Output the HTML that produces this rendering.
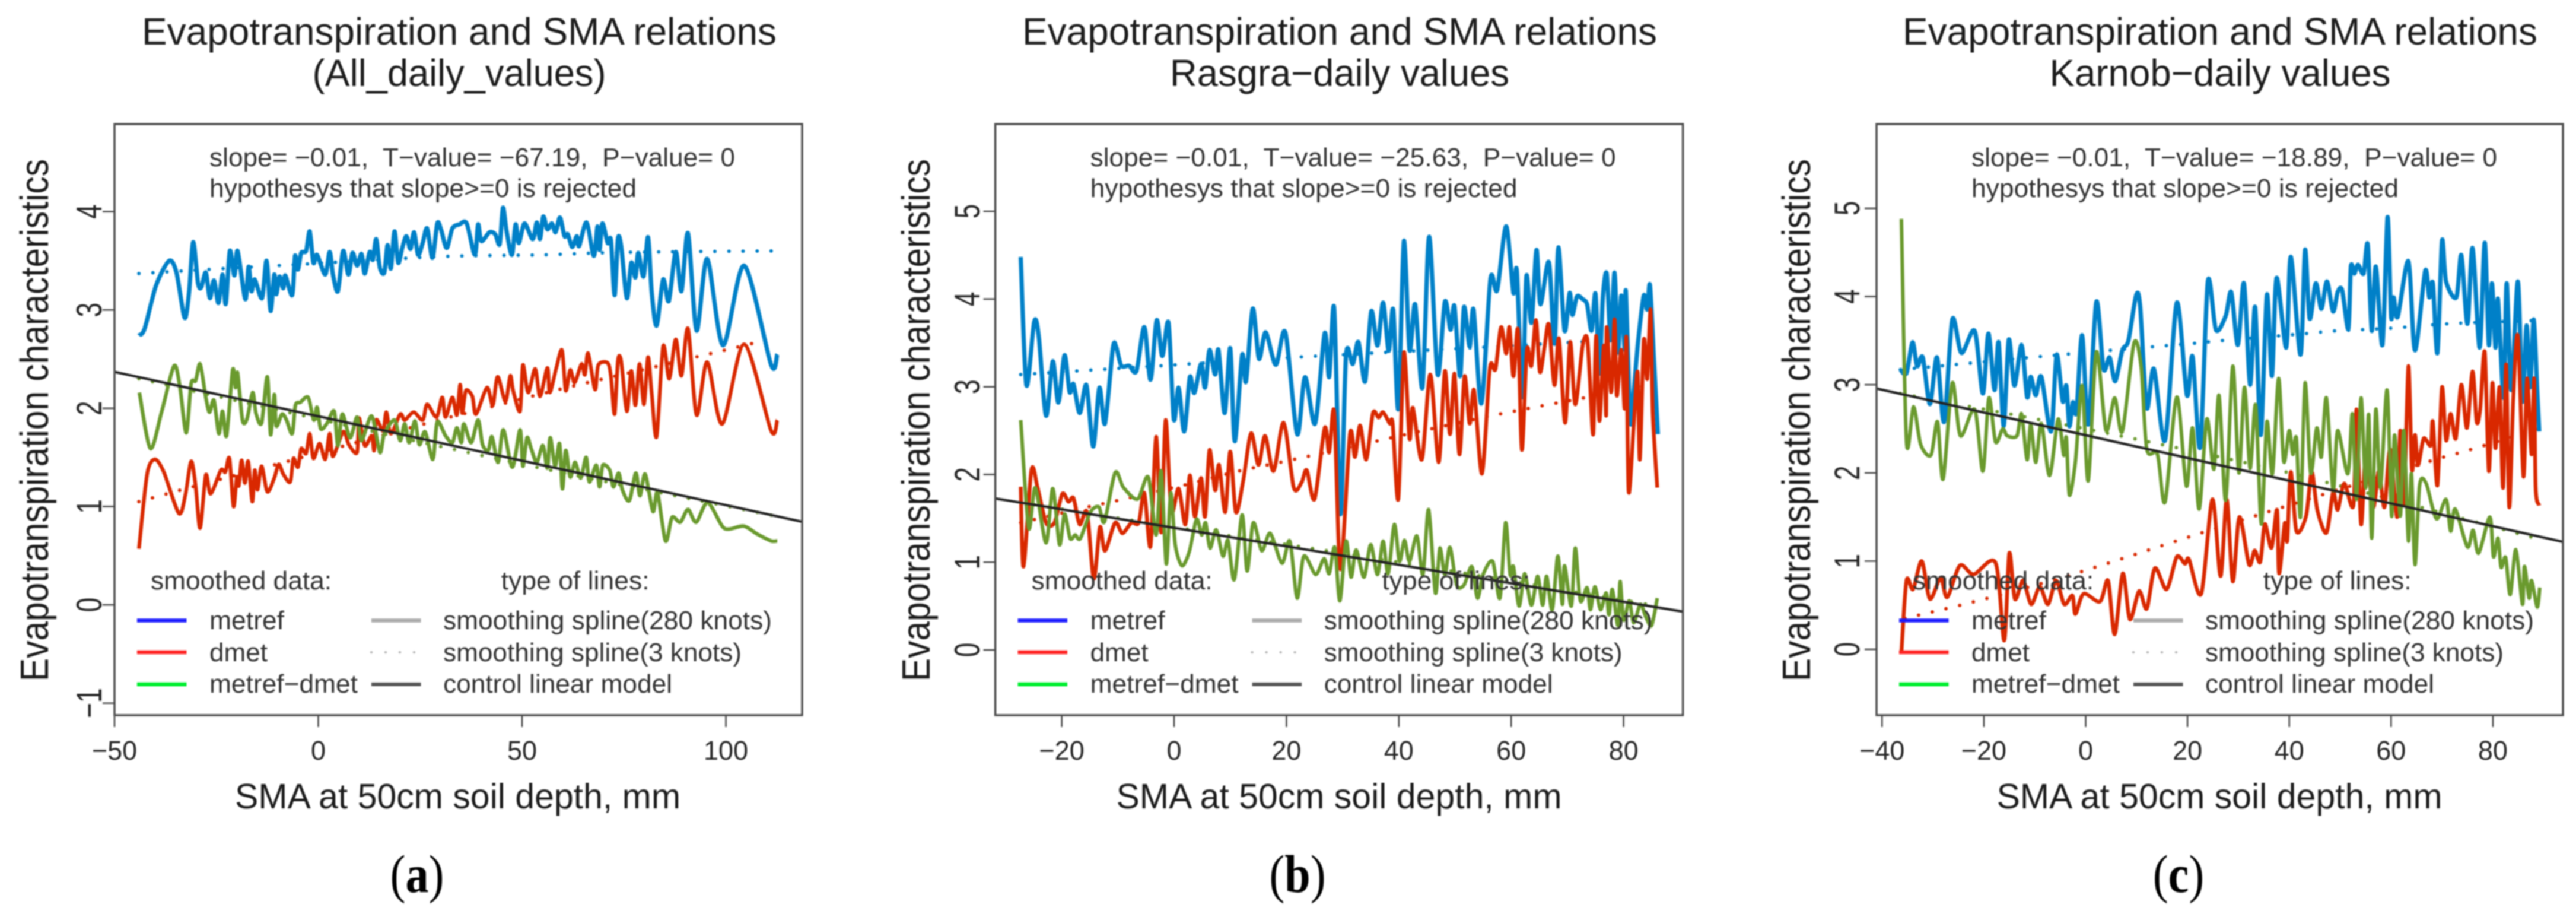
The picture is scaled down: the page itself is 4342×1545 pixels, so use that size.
<!DOCTYPE html>
<html lang="en">
<head>
<meta charset="utf-8">
<title>Evapotranspiration and SMA relations</title>
<style>
html,body{margin:0;padding:0;background:#fff;width:4342px;height:1545px;overflow:hidden}
svg{display:block;filter:blur(1.1px)}
text{font-family:"Liberation Sans",sans-serif;fill:#262626;white-space:pre}
.title{font-size:64px;fill:#1c1c1c;text-anchor:middle}
.xlab{font-size:59px;fill:#1c1c1c;text-anchor:middle}
.note{font-size:44px;fill:#333}
.leg{font-size:44px;fill:#333}
.cap{font-family:"Liberation Serif",serif;font-size:78px;fill:#000;text-anchor:middle}
.capb{font-weight:bold}
</style>
</head>
<body>
<svg id="figure" xmlns="http://www.w3.org/2000/svg" width="4342" height="1545" viewBox="0 0 4342 1545">
<rect x="0" y="0" width="4342" height="1545" fill="#fff"/>

<g id="panel-a">
<text class="title" x="774" y="75" textLength="1070" lengthAdjust="spacingAndGlyphs">Evapotranspiration and SMA relations</text>
<text class="title" x="774" y="145" textLength="495" lengthAdjust="spacingAndGlyphs">(All_daily_values)</text>
<text class="xlab" x="771.5" y="1362" textLength="751" lengthAdjust="spacingAndGlyphs">SMA at 50cm soil depth, mm</text>
<text class="xlab" transform="translate(81,708) rotate(-90) scale(1,1.14)" textLength="880" lengthAdjust="spacingAndGlyphs">Evapotranspiration characteristics</text>
<text class="cap" transform="translate(703,1503) scale(1,1.15)">(<tspan class="capb">a</tspan>)</text>
</g>
<g id="panel-b">
<text class="title" x="2258" y="75" textLength="1070" lengthAdjust="spacingAndGlyphs">Evapotranspiration and SMA relations</text>
<text class="title" x="2258" y="145" textLength="572" lengthAdjust="spacingAndGlyphs">Rasgra−daily values</text>
<text class="xlab" x="2257" y="1362" textLength="751" lengthAdjust="spacingAndGlyphs">SMA at 50cm soil depth, mm</text>
<text class="xlab" transform="translate(1567,708) rotate(-90) scale(1,1.14)" textLength="880" lengthAdjust="spacingAndGlyphs">Evapotranspiration characteristics</text>
<text class="cap" transform="translate(2187,1503) scale(1,1.15)">(<tspan class="capb">b</tspan>)</text>
</g>
<g id="panel-c">
<text class="title" x="3742" y="75" textLength="1070" lengthAdjust="spacingAndGlyphs">Evapotranspiration and SMA relations</text>
<text class="title" x="3742" y="145" textLength="575" lengthAdjust="spacingAndGlyphs">Karnob−daily values</text>
<text class="xlab" x="3741" y="1362" textLength="751" lengthAdjust="spacingAndGlyphs">SMA at 50cm soil depth, mm</text>
<text class="xlab" transform="translate(3051,708) rotate(-90) scale(1,1.14)" textLength="880" lengthAdjust="spacingAndGlyphs">Evapotranspiration characteristics</text>
<text class="cap" transform="translate(3672,1503) scale(1,1.15)">(<tspan class="capb">c</tspan>)</text>
</g>

<g id="marks"></g>

<g transform="translate(193,0)">
<text class="note" x="160" y="280" textLength="886" lengthAdjust="spacingAndGlyphs">slope= −0.01,  T−value= −67.19,  P−value= 0</text>
<text class="note" x="160" y="332" textLength="720" lengthAdjust="spacingAndGlyphs">hypothesys that slope&gt;=0 is rejected</text>
<g>
<text class="leg" x="61" y="993" textLength="305" lengthAdjust="spacingAndGlyphs">smoothed data:</text>
<text class="leg" x="651.6" y="993" textLength="250" lengthAdjust="spacingAndGlyphs">type of lines:</text>
<line x1="38" x2="121.5" y1="1045.5" y2="1045.5" stroke="#1a1aff" stroke-width="6.5"/>
<line x1="38" x2="121.5" y1="1099" y2="1099" stroke="#ff2424" stroke-width="6.5"/>
<line x1="38" x2="121.5" y1="1153" y2="1153" stroke="#00ee30" stroke-width="6.5"/>
<text class="leg" x="160" y="1060" textLength="126" lengthAdjust="spacingAndGlyphs">metref</text>
<text class="leg" x="160" y="1114" textLength="98" lengthAdjust="spacingAndGlyphs">dmet</text>
<text class="leg" x="160" y="1167" textLength="250" lengthAdjust="spacingAndGlyphs">metref−dmet</text>
<line x1="433" x2="516.5" y1="1045.5" y2="1045.5" stroke="#aaa" stroke-width="6.5"/>
<line x1="433" x2="516.5" y1="1099" y2="1099" stroke="#bbb" stroke-width="4.5" stroke-linecap="round" stroke-dasharray="0 24"/>
<line x1="433" x2="516.5" y1="1153" y2="1153" stroke="#555" stroke-width="6"/>
<text class="leg" x="554" y="1060" textLength="554" lengthAdjust="spacingAndGlyphs">smoothing spline(280 knots)</text>
<text class="leg" x="554" y="1114" textLength="503" lengthAdjust="spacingAndGlyphs">smoothing spline(3 knots)</text>
<text class="leg" x="554" y="1167" textLength="386" lengthAdjust="spacingAndGlyphs">control linear model</text>
</g>
</g>

<g transform="translate(1677.6,0)">
<text class="note" x="160" y="280" textLength="886" lengthAdjust="spacingAndGlyphs">slope= −0.01,  T−value= −25.63,  P−value= 0</text>
<text class="note" x="160" y="332" textLength="720" lengthAdjust="spacingAndGlyphs">hypothesys that slope&gt;=0 is rejected</text>
<g>
<text class="leg" x="61" y="993" textLength="305" lengthAdjust="spacingAndGlyphs">smoothed data:</text>
<text class="leg" x="651.6" y="993" textLength="250" lengthAdjust="spacingAndGlyphs">type of lines:</text>
<line x1="38" x2="121.5" y1="1045.5" y2="1045.5" stroke="#1a1aff" stroke-width="6.5"/>
<line x1="38" x2="121.5" y1="1099" y2="1099" stroke="#ff2424" stroke-width="6.5"/>
<line x1="38" x2="121.5" y1="1153" y2="1153" stroke="#00ee30" stroke-width="6.5"/>
<text class="leg" x="160" y="1060" textLength="126" lengthAdjust="spacingAndGlyphs">metref</text>
<text class="leg" x="160" y="1114" textLength="98" lengthAdjust="spacingAndGlyphs">dmet</text>
<text class="leg" x="160" y="1167" textLength="250" lengthAdjust="spacingAndGlyphs">metref−dmet</text>
<line x1="433" x2="516.5" y1="1045.5" y2="1045.5" stroke="#aaa" stroke-width="6.5"/>
<line x1="433" x2="516.5" y1="1099" y2="1099" stroke="#bbb" stroke-width="4.5" stroke-linecap="round" stroke-dasharray="0 24"/>
<line x1="433" x2="516.5" y1="1153" y2="1153" stroke="#555" stroke-width="6"/>
<text class="leg" x="554" y="1060" textLength="554" lengthAdjust="spacingAndGlyphs">smoothing spline(280 knots)</text>
<text class="leg" x="554" y="1114" textLength="503" lengthAdjust="spacingAndGlyphs">smoothing spline(3 knots)</text>
<text class="leg" x="554" y="1167" textLength="386" lengthAdjust="spacingAndGlyphs">control linear model</text>
</g>
</g>

<g transform="translate(3163,0)">
<text class="note" x="160" y="280" textLength="886" lengthAdjust="spacingAndGlyphs">slope= −0.01,  T−value= −18.89,  P−value= 0</text>
<text class="note" x="160" y="332" textLength="720" lengthAdjust="spacingAndGlyphs">hypothesys that slope&gt;=0 is rejected</text>
<g>
<text class="leg" x="61" y="993" textLength="305" lengthAdjust="spacingAndGlyphs">smoothed data:</text>
<text class="leg" x="651.6" y="993" textLength="250" lengthAdjust="spacingAndGlyphs">type of lines:</text>
<line x1="38" x2="121.5" y1="1045.5" y2="1045.5" stroke="#1a1aff" stroke-width="6.5"/>
<line x1="38" x2="121.5" y1="1099" y2="1099" stroke="#ff2424" stroke-width="6.5"/>
<line x1="38" x2="121.5" y1="1153" y2="1153" stroke="#00ee30" stroke-width="6.5"/>
<text class="leg" x="160" y="1060" textLength="126" lengthAdjust="spacingAndGlyphs">metref</text>
<text class="leg" x="160" y="1114" textLength="98" lengthAdjust="spacingAndGlyphs">dmet</text>
<text class="leg" x="160" y="1167" textLength="250" lengthAdjust="spacingAndGlyphs">metref−dmet</text>
<line x1="433" x2="516.5" y1="1045.5" y2="1045.5" stroke="#aaa" stroke-width="6.5"/>
<line x1="433" x2="516.5" y1="1099" y2="1099" stroke="#bbb" stroke-width="4.5" stroke-linecap="round" stroke-dasharray="0 24"/>
<line x1="433" x2="516.5" y1="1153" y2="1153" stroke="#555" stroke-width="6"/>
<text class="leg" x="554" y="1060" textLength="554" lengthAdjust="spacingAndGlyphs">smoothing spline(280 knots)</text>
<text class="leg" x="554" y="1114" textLength="503" lengthAdjust="spacingAndGlyphs">smoothing spline(3 knots)</text>
<text class="leg" x="554" y="1167" textLength="386" lengthAdjust="spacingAndGlyphs">control linear model</text>
</g>
</g>
</svg>

<script>
// ---------- Panel (a) All daily values ----------
const aXTicks = [-50, 0, 50, 100];
const aYTicks = [-1, 0, 1, 2, 3, 4];
const aMetrefX = [-44,-42.6,-39.8,-36.6,-34.8,-32.8,-31.7,-30.7,-29.5,-28.7,-27.6,-26.6,-25.6,-24.5,-23.5,-22.7,-21.7,-20.6,-19.8,-17.9,-17.1,-16.4,-15.6,-13.8,-12.7,-11.7,-10.8,-10.3,-9.5,-8.6,-8.1,-6.4,-5.7,-5,-4.2,-3,-2.1,-1.2,-0.3,1.7,2.8,3.6,4.8,6.1,7.4,8.4,9.5,10.6,11.4,12.6,13.4,14.2,15.1,16.2,17,17.8,18.7,19.6,20.6,21.6,22.6,23.5,24.5,25.6,26.7,28,29.2,30.1,31.5,32.9,34.6,36.4,38.4,39.2,40,42,43.4,44.5,45.3,46.2,47.5,48.4,49.2,50.6,52.6,53.6,54.4,55.2,56.2,57.3,58.2,59.3,60.4,61.2,62.3,63.4,64,65.8,67.6,68.5,69,69.7,71,71.8,72.7,73.5,74.3,75.7,76.8,77.8,78.5,79.8,80.9,81.8,83,84.6,86,87.7,89.1,90.7,92.8,95.4,99.3,104.5,111.1,112.6];
const aMetrefY = [2.74,2.81,3.25,3.5,3.38,2.92,3.18,3.69,3.27,3.23,3.38,3.12,3.3,3.07,3.36,3.06,3.6,3.35,3.6,3.11,3.44,3.19,3.31,3.12,3.5,2.99,3.36,3.16,3.34,3.22,3.35,3.15,3.55,3.41,3.58,3.6,3.8,3.48,3.56,3.36,3.59,3.36,3.19,3.6,3.36,3.58,3.45,3.57,3.37,3.59,3.51,3.72,3.43,3.38,3.66,3.42,3.8,3.48,3.63,3.75,3.62,3.79,3.56,3.68,3.83,3.53,3.88,3.82,3.63,3.83,3.87,3.88,3.56,3.87,3.7,3.79,3.77,3.67,4.04,3.8,3.56,3.87,3.68,3.88,3.72,3.89,3.72,3.95,3.82,3.88,3.79,3.94,3.75,3.77,3.64,3.75,3.65,3.89,3.55,3.85,3.61,3.88,3.68,3.71,3.15,3.72,3.65,3.12,3.48,3.33,3.58,3.34,3.74,3.18,2.84,3.31,3.09,3.59,3.19,3.78,2.79,3.52,2.64,3.45,2.44,2.55];
const aDmetX = [-44,-42,-40.1,-37.9,-34.2,-32.6,-31.2,-30.1,-29,-27.6,-26.4,-23.9,-22.8,-21.8,-20.8,-20,-19.5,-18.8,-18,-17.2,-16.2,-15.6,-14.9,-13.9,-12.5,-10.8,-9.7,-8.6,-6.9,-6.1,-5,-4.2,-3,-2.1,-1.2,0.3,1.7,2.8,3.6,6.1,7.5,9.5,10,11.4,13.1,13.7,14.2,15.9,16.7,17.8,20.1,21.2,23.4,25.6,26.7,29,30.4,31.2,32.9,34,34.8,35.3,36.2,37.8,38.7,41.4,42.8,44,45.9,47.1,47.8,49.5,50.2,51.5,53.2,54.4,56.2,56.8,58.4,59.8,60.7,61.8,62.9,64.6,65.4,66.2,67.9,68.7,71,71.8,72.7,73.5,74.3,75.7,76.8,77.8,78.8,79.9,80.9,81.8,83,84.6,86.1,87.7,89.1,90.7,92.8,95.4,99.1,104.5,111.1,112.6];
const aDmetY = [0.57,1.33,1.48,1.35,0.93,1.12,1.46,1.21,0.78,1.32,1.13,1.37,1.35,1.49,1,1.3,1.21,1.47,1.24,1.46,1.05,1.37,1.17,1.41,1.15,1.29,1.43,1.33,1.25,1.49,1.4,1.59,1.54,1.74,1.49,1.64,1.48,1.74,1.51,1.76,1.63,1.55,1.9,1.62,1.72,1.57,1.88,1.77,1.96,1.74,1.94,1.88,1.96,1.88,2.04,1.91,2.11,1.91,2.11,1.93,2.24,1.95,2.18,2.12,1.94,2.21,2.03,2.32,2.07,2.33,2.18,1.97,2.44,2.16,2.4,2.12,2.41,2.16,2.41,2.59,2.18,2.39,2.26,2.45,2.34,2.56,2.19,2.44,2.46,2.32,1.94,2.48,2.48,1.97,2.38,2.03,2.45,2.04,2.52,2.15,1.71,2.63,2.3,2.7,2.33,2.81,1.93,2.47,1.84,2.65,1.77,1.88];
const aDiffX = [-43.9,-41.2,-38.4,-35.4,-34,-32.4,-31.2,-30.1,-29,-27.6,-26.7,-25.6,-24.4,-23.5,-22.5,-21,-20.3,-19.8,-18.6,-17.5,-16.1,-15.3,-13.9,-12.5,-11.7,-10.8,-10.3,-8.9,-7.8,-6.4,-5.6,-4.4,-2.5,-1.1,-0.3,0.6,2.2,3.9,4.8,5.9,7.8,9.5,10.6,13.1,15.1,16.2,18.7,20.1,21.2,22.3,23.7,24.8,26.2,28.1,29.2,31.2,32.9,34,35.1,35.7,37.5,39.2,40.3,41.7,42.6,44.1,45.4,47.6,49.5,50.2,51.2,52.3,53.6,55.1,56.2,56.9,58.1,59.2,59.9,60.7,61.8,63,64.4,65.7,66.5,68.2,69,69.8,71.5,72.4,73.7,74.6,76.3,77.9,78.9,80.2,82.1,83.2,85.2,86.8,88.8,90.7,92.7,95.5,99.1,100.8,104.4,107.7,111.1,112.6];
const aDiffY = [2.16,1.59,1.97,2.43,2.23,1.75,2.25,2.28,2.45,2.11,1.96,2.08,1.74,1.97,1.72,2.39,2.21,2.36,1.88,1.89,2.16,1.95,1.85,2.32,1.73,2.14,1.82,1.94,1.88,1.74,2.03,2.06,2.11,1.88,2.01,1.79,1.85,1.97,1.62,1.94,1.7,1.91,1.67,1.92,1.55,1.74,1.88,1.67,1.84,1.65,1.87,1.63,1.76,1.48,1.86,1.72,1.65,1.8,1.65,1.84,1.65,1.88,1.63,1.57,1.71,1.45,1.78,1.4,1.78,1.41,1.7,1.58,1.45,1.62,1.39,1.7,1.41,1.64,1.18,1.57,1.3,1.45,1.29,1.5,1.25,1.42,1.2,1.42,1.37,1.2,1.34,1.17,1.06,1.34,1.11,1.33,0.95,1.14,0.65,0.89,0.84,0.97,0.84,1.04,0.8,0.77,0.8,0.72,0.65,0.65];
const aMetrefTrendX = [-44,-27.6,-10.3,23.5,36,55,69,83,112.6];
const aMetrefTrendY = [3.37,3.41,3.45,3.53,3.55,3.56,3.58,3.59,3.6];
const aDmetTrendX = [-44,-30,-6.7,26,41,59,83.5,99.6,112.6];
const aDmetTrendY = [1.05,1.21,1.47,1.84,2,2.19,2.43,2.59,2.72];
const aDiffTrendX = [-44,0,50,112.6];
const aDiffTrendY = [2.3,1.89,1.43,0.9];
const aLinearX = [-50,118.7];
const aLinearY = [2.37,0.845];

// ---------- Panel (b) Rasgra ----------
const bXTicks = [-20, 0, 20, 40, 60, 80];
const bYTicks = [0, 1, 2, 3, 4, 5];
const bMetrefX = [-27.3,-26.3,-24.9,-24.1,-22.8,-21.6,-20.6,-19.5,-18.6,-17.9,-16.8,-15.6,-14.4,-13.3,-12.3,-10.9,-10.3,-9.4,-8,-6.7,-5.3,-4.2,-3.1,-2.1,-1,-0.05,0.8,1.8,2.8,3.6,4.8,5.5,6.3,7.3,7.9,9,10,10.8,12.1,12.8,14,15.1,16.3,18.1,19.8,21.9,23.3,25.1,26.8,27.6,28.5,29.6,30.6,31.8,32.8,34,35.1,36.2,37.2,38.2,39,39.9,40.9,41.9,42.9,44.2,45.4,46.9,48.2,49.2,49.9,50.9,51.6,52.6,53.3,54.7,56.3,57.5,59.1,60.4,61,62,62.7,63.6,64.5,65.2,66.7,67.7,68.4,69.5,70.4,70.9,71.7,72.7,73.5,74.3,75,75.7,76.3,77,77.7,78.4,79,79.6,80.2,80.4,81.2,81.8,82.6,83.6,84.2,84.7,85.4,86.1];
const bMetrefY = [4.48,3.02,3.74,3.58,2.67,3.29,2.82,3.36,2.94,3.03,2.7,3.02,2.32,2.99,2.58,3.44,3.45,3.24,3.24,3.18,3.68,3.08,3.76,3.35,3.73,2.63,2.99,2.49,3.11,2.93,3.26,2.99,3.42,3.14,3.42,2.7,3.44,2.38,3.36,3.06,3.89,3.32,3.62,3.25,3.62,2.46,3.11,2.58,3.61,3.11,3.89,1.55,3.36,3.26,3.51,3.06,3.86,3.47,3.96,3.41,3.88,2.75,4.66,3.42,3.94,2.99,4.71,3.14,3.97,3.65,3.92,3.12,3.91,3.46,3.88,2.81,4.23,4.1,4.83,4.07,4.32,2.88,4.26,3.73,4.56,3.94,4.42,3.49,4.59,3.64,4.07,3.82,4.03,4,3.94,3.64,4.06,3.15,4.01,4.29,3.55,4.3,3.39,4.04,3.42,4.09,2.61,2.94,3.52,4.04,3.88,4.16,3.33,2.46];
const bDmetX = [-27.3,-26.8,-25.4,-24.3,-22.8,-21.3,-19.9,-18.8,-17.9,-16.8,-15.5,-14.3,-13.2,-12.3,-10.5,-9.2,-7.6,-6.3,-5.3,-4.2,-3.2,-2.3,-1.5,-0.5,0.8,2,2.8,3.7,4.8,5.5,6.3,7.3,8,9.1,10,11,12.3,13.7,15,16.2,17.7,19.5,21.3,22.7,23.6,25,26.8,27.6,28.5,29.6,31.3,32.2,33.1,34.2,35.4,36.4,37.2,38.4,38.9,39.9,40.9,41.9,42.5,44.1,45.6,47.1,48.2,49.1,49.9,50.8,51.7,52.6,53.4,54.8,56.2,57.2,58.2,59.1,59.7,60.4,61.2,61.9,62.8,63.6,64.4,65.1,65.9,66.7,67.7,68.5,69.6,70.5,71.4,72.7,73.5,74,74.6,75.1,75.7,76.5,76.9,77,77.8,78.4,78.8,79.6,80.2,80.5,80.9,81.8,82.5,82.9,83.6,84.2,84.8,85.2,86];
const bDmetY = [1.86,0.95,2.05,1.85,1.45,1.45,1.78,1.69,1.73,1.43,1.57,0.81,1.4,1.13,1.45,1.33,1.45,1.45,1.79,1.18,2.43,1.34,2.62,1.58,1.84,1.43,1.99,1.52,1.96,1.52,2.28,1.82,2.11,1.57,2.26,1.57,1.93,2.47,2.11,2.44,2.04,2.59,1.85,1.91,2.05,1.72,2.53,2.25,2.71,0.92,2.46,2.2,2.56,2.17,2.7,2.65,2.71,2.58,2.58,1.72,3.39,2.41,2.76,2.17,3.14,2.14,3.18,2.46,3.15,2.23,3.12,2.58,2.96,2.01,3.21,3.2,3.68,3.38,3.68,3.12,3.65,2.28,3.42,3.24,3.76,3.17,3.44,3.71,3.02,3.55,2.59,3.51,2.8,3.46,3.56,3.09,2.46,3.58,2.61,3.47,2.67,3.68,2.94,3.77,2.9,3.42,2.75,3.56,1.81,2.55,3.17,2.17,3.53,3.09,3.88,2.71,1.85];
const bDiffX = [-27.3,-25.9,-24.7,-22.8,-21.6,-20.4,-19.5,-18.5,-17.6,-16.7,-14.9,-13.4,-12.4,-10.5,-9,-6.5,-4.6,-3.2,-2.3,-1.4,-0.6,0.2,1.4,2.7,4,4.9,5.6,6.4,7.5,8.7,9.6,10.7,12.1,13,14.1,15.6,17.1,19.2,20.6,21.9,23.1,25.2,26.7,27.6,28.6,29.5,30.6,31.5,32.4,33.8,35,36.2,37.2,38.1,39.2,40.1,41,41.9,43.2,44.3,45.3,46.5,47.3,48.2,49.1,50.3,51.6,53,54,55,56.7,58,59,59.8,60.4,61.4,62.4,63.6,64.7,65.6,66.3,67.3,68.3,69.1,69.5,70.7,71.4,72.3,73.5,74.1,74.9,75.9,76.9,77.4,78,79,79.4,80,81,81.8,83,84,85,86];
const bDiffY = [2.62,1.39,1.85,1.22,1.84,1.2,1.55,1.27,1.31,1.27,1.57,1.63,1.46,2.02,1.85,1.72,1.97,1.31,2.04,0.98,1.79,1.2,0.96,1.12,1.49,1.31,1.45,1.16,1.37,1.07,1.25,0.8,1.54,0.9,1.45,1.13,1.33,0.99,1.24,0.59,1.07,0.86,1.04,0.87,1.17,0.56,1.24,0.83,1.14,0.83,1.2,0.86,1.24,0.87,1.43,1.01,1.25,1.01,1.3,0.86,1.6,0.65,1.16,0.86,1.17,0.74,0.74,0.95,0.59,0.86,1.01,0.59,1.45,0.86,0.95,0.5,0.87,0.51,0.84,0.51,0.84,0.46,1.07,0.52,0.96,0.5,1.16,0.56,0.71,0.46,0.72,0.46,0.65,0.4,0.69,0.28,0.78,0.34,0.56,0.31,0.52,0.37,0.28,0.59];
const bMetrefTrendX = [-27.3,-17.4,-2.3,22.7,40,55,72,86];
const bMetrefTrendY = [3.14,3.18,3.24,3.34,3.4,3.45,3.51,3.54];
const bDmetTrendX = [-27.3,-15.3,-10.3,1.8,11.6,21.2,36,45.7,58,67.7,72.7,86];
const bDmetTrendY = [1.45,1.63,1.7,1.88,2.04,2.17,2.38,2.52,2.69,2.81,2.87,3.05];
const bDiffTrendX = [-27.3,0,40,86];
const bDiffTrendY = [1.68,1.4,1,0.5];
const bLinearX = [-31.83,90.56];
const bLinearY = [1.727,0.437];

// ---------- Panel (c) Karnob ----------
const cXTicks = [-40, -20, 0, 20, 40, 60, 80];
const cYTicks = [0, 1, 2, 3, 4, 5];
const cMetrefX = [-36.4,-35.2,-34,-33.1,-32,-30.6,-29.2,-27.8,-26.2,-24.4,-21.8,-20.2,-19.1,-17.9,-17.1,-16.1,-15.1,-14,-12.6,-11.5,-10.8,-9.8,-8.7,-6.8,-5.7,-4.5,-3.8,-3.2,-2.5,-1.8,-0.7,0.5,2.1,3.5,4.7,5.8,7.2,8.4,9.9,10.7,12,13.4,15.6,17.9,19.9,21,22.5,24,25.6,27.5,28.6,29.9,31.1,32.3,33.3,34.4,35.6,36.6,37.5,39.4,40.3,42.2,43.1,44,45.2,46.3,47.4,48.6,49.5,50.4,51.6,52.1,52.8,53.5,54.6,55.4,56.2,57,58.3,59.3,60,60.5,61.3,63.4,64.7,66.7,67.5,68.2,69.1,70,70.8,72.8,73.8,75,76,77.4,78.4,79.2,79.8,80.5,81,82.1,82.7,83.6,84.9,85.8,86.6,87.3,88,88.7,89.1];
const cMetrefY = [3.17,3.13,3.48,3.21,3.31,2.78,3.31,2.58,3.74,3.36,3.61,2.9,3.58,2.94,3.48,2.53,3.51,2.99,3.45,2.86,3.09,2.88,3.09,2.47,3.34,2.81,2.99,2.53,2.8,2.69,3.56,2.55,3.94,3.18,3.31,3.04,3.39,3.5,4.01,3.89,2.74,3.18,2.37,3.93,2.88,3.32,2.29,4.17,3.62,3.78,4.05,3.45,4.15,3,3.88,2.43,4.02,3.1,4.21,3.42,4.45,3.34,4.53,3.75,4.15,3.86,4.17,3.83,4.05,4.07,3.63,4.34,4.26,4.36,4.26,4.59,3.61,4.34,3.45,4.9,3.77,3.99,3.77,4.4,3.39,4.29,3.99,4.15,3.36,4.63,4.17,3.99,4.47,3.69,4.55,3.42,4.61,3.45,4.15,3.42,3.97,2.85,4.15,2.94,4.17,2.81,3.67,2.97,3.74,2.94,2.47];
const cDmetX = [-36.2,-35.2,-33.9,-32.2,-30.6,-28.5,-27.2,-24.7,-22,-17.7,-16,-15,-13.9,-12.3,-10.7,-9,-7.4,-5.8,-4.2,-2.6,-2,-0.4,2.8,4.4,5.7,7.3,8.7,10.5,12,13.6,15.9,17.9,19.5,20.3,22.7,24.9,26.5,27.7,28.9,30.2,32.1,33.2,34.3,35.2,36.5,37.6,38,39.1,39.6,40.3,41.4,43.3,44.4,45.5,47.3,48.6,49.5,50.8,52.6,53.2,54.1,55,56.5,57.6,58.7,59.8,61.2,61.8,62.5,63.4,64.1,64.7,65.3,66.4,67.8,68.2,69.1,70,70.8,71.7,72.7,73.8,74.9,76,76.8,77.5,78.4,79.2,79.9,80.5,81.3,82,82.6,83.2,84,84.9,86,86.7,87.6,88.1,88.4,89.1];
const cDmetY = [-0.04,0.78,0.68,1,0.57,0.81,0.59,0.95,0.85,0.98,0.1,1.09,0.57,0.78,0.51,0.71,0.51,0.78,0.51,0.61,0.4,0.63,0.54,0.78,0.17,0.86,0.34,0.66,0.46,0.92,0.68,1.05,0.97,1.02,0.63,1.7,0.83,1.7,0.77,1.5,0.96,1.12,0.99,1.42,1.15,1.58,0.86,1.43,1.23,2.01,1.34,1.51,2.01,1.58,1.32,1.78,1.58,1.88,1.63,2.72,1.42,2.18,1.61,2.02,1.61,2.27,1.5,2.48,1.64,3.21,2.04,2.43,2.09,2.39,2.31,2.58,1.86,2.97,2.37,2.67,2.39,3,2.51,3.15,2.58,2.72,3.37,2.02,3.02,2.28,2.97,1.83,3.23,1.61,2.85,3.55,1.96,3.07,2.21,3.07,1.83,1.63];
const cDiffX = [-36.2,-35.2,-33.8,-32.4,-30.4,-29.1,-28,-26.2,-24.6,-21.8,-20.2,-19,-17.7,-16.3,-15.4,-13.5,-12.6,-11.5,-10.8,-9.8,-8.7,-7.1,-5.4,-4.3,-3.8,-3.2,-2,-0.7,0.5,2.1,4,5.7,7.2,9.5,10.9,12,14.1,15.6,17.9,19.8,21,22.3,23.8,25.2,26.2,27.5,28.9,30.1,31.2,32.3,33.4,34.5,35.6,36.7,37.9,38.9,40,40.7,41.4,42.2,43.1,44.2,45.4,46.3,47.3,48.6,49.5,51.5,52.4,53.2,54.1,55,55.6,56.2,57,57.9,59.2,60.1,60.7,61.8,62.5,63.4,64,64.7,65.6,66.9,68.9,70.8,71.7,72.6,75,76.1,77.2,79.4,80.1,81,81.6,82.5,83.4,84.5,85.8,86.2,87.1,87.6,88.7,89.2];
const cDiffY = [4.88,2.35,2.75,2.32,2.2,2.58,1.93,3.02,2.42,2.72,2.02,2.85,2.35,2.5,2.42,2.42,2.67,2.15,2.55,2.12,2.56,1.97,2.61,2.2,2.4,1.75,2.13,2.99,1.91,3.37,2.48,2.85,2.47,3.47,3.2,2.27,2.21,1.67,2.86,1.85,2.51,1.59,2.61,2.04,2.88,1.69,3.21,2,2.97,2.05,2.77,1.42,2.58,1.99,3.07,2.13,2.48,2.21,2.39,1.5,3.02,2,2.51,2.18,2.85,1.8,2.48,1.99,2.67,1.7,2.85,1.83,2.66,1.26,2.72,1.83,2.94,1.51,2.43,1.51,2.48,1.23,1.99,0.96,1.86,1.88,1.48,1.7,1.34,1.59,1.16,1.35,1.09,1.5,1.05,1.26,0.93,1.04,0.62,1.13,0.51,0.94,0.58,0.78,0.48,0.7];
const cMetrefTrendX = [-36.4,-25.3,-8.7,5,13.2,21.5,27,43.3,49,60,71,89];
const cMetrefTrendY = [3.17,3.23,3.32,3.39,3.43,3.47,3.5,3.58,3.61,3.64,3.69,3.73];
const cDmetTrendX = [-35.5,-19.8,-2,22.2,27.3,32.6,66.9,74.8,89];
const cDmetTrendY = [0.35,0.57,0.86,1.31,1.4,1.5,2.12,2.25,2.5];
const cDiffTrendX = [-36.4,0,40,89];
const cDiffTrendY = [2.9,2.5,2,1.25];
const cLinearX = [-41.08,93.76];
const cLinearY = [2.957,1.218];

// ---------- Rendering ----------
const NS = 'http://www.w3.org/2000/svg';
const marksRoot = document.getElementById('marks');
const BLUE = '#0080c8', RED = '#d92800', GREEN = '#6a9a2e';

function linear(d0, d1, r0, r1) {
  return function (v) { return r0 + (v - d0) * (r1 - r0) / (d1 - d0); };
}
function node(parent, tag, attrs) {
  const el = document.createElementNS(NS, tag);
  for (const k in attrs) el.setAttribute(k, attrs[k]);
  parent.appendChild(el);
  return el;
}
function smoothPath(xs, ys, sx, sy) {
  const n = Math.min(xs.length, ys.length);
  const p = [];
  for (let i = 0; i < n; i++) p.push([sx(xs[i]), sy(ys[i])]);
  let d = 'M' + p[0][0].toFixed(1) + ' ' + p[0][1].toFixed(1);
  const k = 0.14;
  for (let i = 0; i < n - 1; i++) {
    const a = p[Math.max(0, i - 1)], b = p[i], c = p[i + 1], e = p[Math.min(n - 1, i + 2)];
    d += 'C' + (b[0] + (c[0] - a[0]) * k).toFixed(1) + ' ' + (b[1] + (c[1] - a[1]) * k).toFixed(1) +
      ' ' + (c[0] - (e[0] - b[0]) * k).toFixed(1) + ' ' + (c[1] - (e[1] - b[1]) * k).toFixed(1) +
      ' ' + c[0].toFixed(1) + ' ' + c[1].toFixed(1);
  }
  return d;
}
function tickLabel(v) { return String(v).replace('-', '\u2212'); }

function drawPanel(cfg) {
  const g = node(marksRoot, 'g', {});
  
  
  const sx = linear(cfg.xDom[0], cfg.xDom[1], cfg.left, cfg.right);
  const sy = linear(cfg.yDom[0], cfg.yDom[1], cfg.bottom, cfg.top);

  // dotted low-knot splines
  cfg.trends.forEach(function (t) {
    const el = node(g, 'path', { d: smoothPath(t.x, t.y, sx, sy), fill: 'none', stroke: t.color, 'stroke-width': 6, 'stroke-linecap': 'round', 'stroke-dasharray': '0 23.7' });
    
    
  });
  // daily smoothed series
  cfg.series.forEach(function (s) {
    const el = node(g, 'path', { d: smoothPath(s.x, s.y, sx, sy), fill: 'none', stroke: s.color, 'stroke-width': s.w, 'stroke-linejoin': 'round', 'stroke-linecap': 'butt' });
    
    
  });
  // control linear model
  const lin = node(g, 'line', { x1: sx(cfg.linX[0]), y1: sy(cfg.linY[0]), x2: sx(cfg.linX[1]), y2: sy(cfg.linY[1]), stroke: '#222', 'stroke-width': 4.2 });
  
  

  // plot frame
  const box = node(g, 'rect', { x: cfg.left, y: cfg.top, width: cfg.right - cfg.left, height: cfg.bottom - cfg.top, fill: 'none', stroke: '#4a4a4a', 'stroke-width': 3.4 });
  
  

  // x axis
  cfg.xTicks.forEach(function (v) {
    const x = sx(v);
    const t = node(g, 'line', { x1: x, x2: x, y1: cfg.bottom, y2: cfg.bottom + 20, stroke: '#4a4a4a', 'stroke-width': 2.6 });
    
    
    const l = node(g, 'text', { x: x, y: 1280, 'text-anchor': 'middle', 'font-size': 45 });
    l.textContent = tickLabel(v);
    
    
  });
  // y axis
  cfg.yTicks.forEach(function (v) {
    const y = sy(v);
    const t = node(g, 'line', { x1: cfg.left - 20, x2: cfg.left, y1: y, y2: y, stroke: '#4a4a4a', 'stroke-width': 2.6 });
    
    
    const l = node(g, 'text', { transform: 'translate(' + cfg.yLabX + ',' + y + ') rotate(-90) scale(1,1.38)', 'text-anchor': 'middle', 'font-size': 44 });
    l.textContent = tickLabel(v);
    
    
  });
}

drawPanel({
  id: 'a', left: 193, right: 1352, top: 209, bottom: 1205, yLabX: 171,
  xDom: [-50, 118.7], yDom: [-1.123, 4.891], xTicks: aXTicks, yTicks: aYTicks,
  linX: aLinearX, linY: aLinearY,
  trends: [
    { name: 'metref-trend', x: aMetrefTrendX, y: aMetrefTrendY, color: BLUE },
    { name: 'dmet-trend', x: aDmetTrendX, y: aDmetTrendY, color: RED },
    { name: 'difference-trend', x: aDiffTrendX, y: aDiffTrendY, color: GREEN }
  ],
  series: [
    { name: 'metref-line', x: aMetrefX, y: aMetrefY, color: BLUE, w: 7.2 },
    { name: 'dmet-line', x: aDmetX, y: aDmetY, color: RED, w: 6.2 },
    { name: 'difference-line', x: aDiffX, y: aDiffY, color: GREEN, w: 6.2 }
  ]
});
drawPanel({
  id: 'b', left: 1677.6, right: 2836.6, top: 209, bottom: 1205, yLabX: 1651,
  xDom: [-31.83, 90.56], yDom: [-0.744, 5.995], xTicks: bXTicks, yTicks: bYTicks,
  linX: bLinearX, linY: bLinearY,
  trends: [
    { name: 'metref-trend', x: bMetrefTrendX, y: bMetrefTrendY, color: BLUE },
    { name: 'dmet-trend', x: bDmetTrendX, y: bDmetTrendY, color: RED },
    { name: 'difference-trend', x: bDiffTrendX, y: bDiffTrendY, color: GREEN }
  ],
  series: [
    { name: 'metref-line', x: bMetrefX, y: bMetrefY, color: BLUE, w: 7.2 },
    { name: 'dmet-line', x: bDmetX, y: bDmetY, color: RED, w: 6.4 },
    { name: 'difference-line', x: bDiffX, y: bDiffY, color: GREEN, w: 6 }
  ]
});
drawPanel({
  id: 'c', left: 3163, right: 4320, top: 209, bottom: 1205, yLabX: 3134,
  xDom: [-41.08, 93.76], yDom: [-0.747, 5.955], xTicks: cXTicks, yTicks: cYTicks,
  linX: cLinearX, linY: cLinearY,
  trends: [
    { name: 'metref-trend', x: cMetrefTrendX, y: cMetrefTrendY, color: BLUE },
    { name: 'dmet-trend', x: cDmetTrendX, y: cDmetTrendY, color: RED },
    { name: 'difference-trend', x: cDiffTrendX, y: cDiffTrendY, color: GREEN }
  ],
  series: [
    { name: 'metref-line', x: cMetrefX, y: cMetrefY, color: BLUE, w: 7.2 },
    { name: 'dmet-line', x: cDmetX, y: cDmetY, color: RED, w: 6.4 },
    { name: 'difference-line', x: cDiffX, y: cDiffY, color: GREEN, w: 6 }
  ]
});
</script>
</body>
</html>
